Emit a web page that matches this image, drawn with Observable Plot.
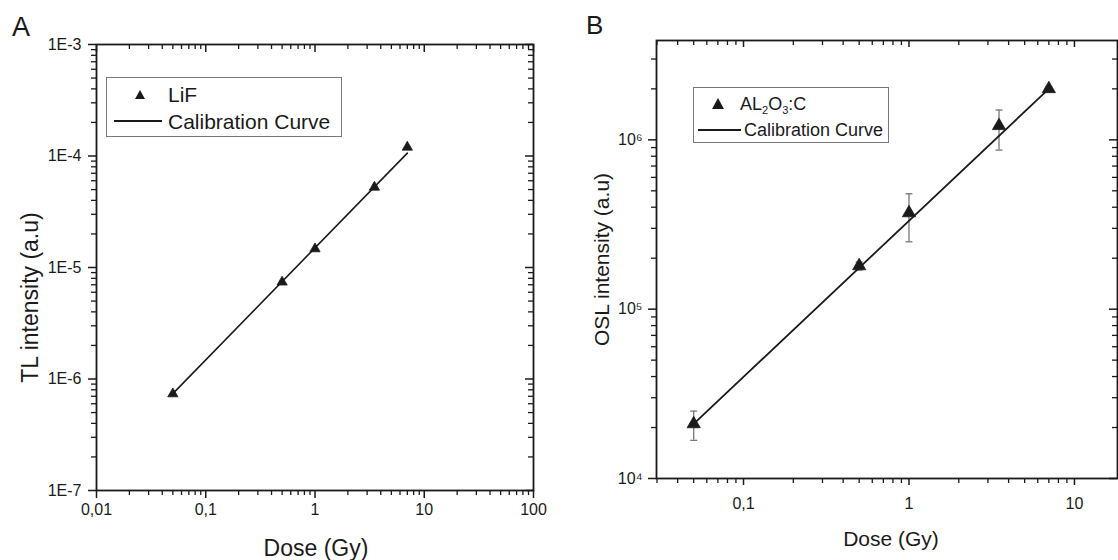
<!DOCTYPE html>
<html><head><meta charset="utf-8">
<script src="https://cdn.jsdelivr.net/npm/d3@7"></script>
<script src="https://cdn.jsdelivr.net/npm/@observablehq/plot@0.6"></script>
<style>
body{margin:0;background:#fff;font-family:"Liberation Sans",Arial,sans-serif;}
#wrap{position:relative;width:1118px;height:560px;overflow:hidden;background:#fff;}
.panel{position:absolute;top:0;}
.t{position:absolute;line-height:1;white-space:nowrap;color:#1a1a1a;font-family:"Liberation Sans",Arial,sans-serif;}
.box{position:absolute;border:1px solid #777;background:#fff;box-sizing:border-box;}
.ln{position:absolute;height:0;border-top:2px solid #1a1a1a;}
.tri{position:absolute;width:0;height:0;border-style:solid;border-color:transparent transparent #1a1a1a transparent;}
</style></head><body><div id="wrap"></div>
<script>
// ---------- Data ----------
// Panel A: LiF (TL)
const doseA = [0.05, 0.5, 1, 3.5, 7];
const tlA = [7.36e-7, 7.4e-6, 1.47e-5, 5.25e-5, 1.2e-4];
const fitDoseA = [0.05, 7];
const fitTlA = [7.4e-7, 1.06e-4];
// Panel B: Al2O3:C (OSL)
const doseB = [0.05, 0.5, 1, 3.5, 7];
const oslB = [2.1e4, 1.8e5, 3.7e5, 1.21e6, 2.0e6];
const oslLoB = [1.68e4, 1.7e5, 2.5e5, 8.7e5, 1.95e6];
const oslHiB = [2.5e4, 1.9e5, 4.8e5, 1.5e6, 2.05e6];
const fitDoseB = [0.05, 7];
const fitOslB = [2.1e4, 2.0e6];
// Tick labels
const xTicksA = [0.01, 0.1, 1, 10, 100];
const xLabelsA = ["0,01", "0,1", "1", "10", "100"];
const yTicksA = [1e-7, 1e-6, 1e-5, 1e-4, 1e-3];
const yLabelsA = ["1E-7", "1E-6", "1E-5", "1E-4", "1E-3"];
const xTicksB = [0.1, 1, 10];
const xLabelsB = ["0,1", "1", "10"];
const yTicksB = [1e4, 1e5, 1e6];
const yLabelsB = ["10\u2074", "10\u2075", "10\u2076"];

// ---------- helpers ----------
function minors(lo, hi) {
  const out = [];
  for (let e = Math.floor(Math.log10(lo)) - 1; e <= Math.ceil(Math.log10(hi)); e++) {
    for (let m = 2; m <= 9; m++) {
      const v = +(m * Math.pow(10, e)).toPrecision(3);
      if (v > lo * 1.0001 && v < hi * 0.9999) out.push(v);
    }
  }
  return out;
}
const fmt = (ticks, labels) => (d) => { const i = ticks.findIndex(t => Math.abs(t - d) / t < 1e-6); return i >= 0 ? labels[i] : ""; };
const len = (s) => Math.sqrt(s / Math.PI);
const capSymbol = { draw(c, s) { const w = len(s); c.moveTo(-w, 0); c.lineTo(w, 0); } };
const INK = "#1a1a1a";
const inDom = (arr, dom) => arr.filter(v => v >= dom[0] * 0.9999 && v <= dom[1] * 1.0001);

// Frame, tick labels and tick marks (tick lengths given in pixels, converted to log-scale factors)
function axesMarks(xDom, yDom, xT, xL, yT, yL, o) {
  const plotW = o.width - o.mL - o.mR, plotH = o.height - o.mT - o.mB;
  const fx = (px) => Math.pow(xDom[1] / xDom[0], px / plotW);
  const fy = (px) => Math.pow(yDom[1] / yDom[0], px / plotH);
  const xMaj = inDom(xT, xDom), xMin = minors(xDom[0], xDom[1]);
  const yMaj = inDom(yT, yDom), yMin = minors(yDom[0], yDom[1]);
  const rx = (data, a, b, w) => Plot.ruleX(data, {x: d => d, y1: () => a, y2: () => b, stroke: INK, strokeWidth: w});
  const ry = (data, a, b, w) => Plot.ruleY(data, {y: d => d, x1: () => a, x2: () => b, stroke: INK, strokeWidth: w});
  return [
    rx(xMaj, yDom[0], yDom[0] / fy(o.xMajSize), 1.5),
    rx(xMin, yDom[0], yDom[0] / fy(o.xMinSize), 1.3),
    rx(xMaj, yDom[1], yDom[1] / fy(o.xMajSize), 1.5),
    rx(xMin, yDom[1], yDom[1] / fy(o.xMinSize), 1.3),
    ry(yMaj, xDom[0] / fx(8), xDom[0], 1.5),
    ry(yMin, xDom[0] / fx(5), xDom[0], 1.3),
    ry(yMaj, xDom[1] / fx(8), xDom[1], 1.5),
    ry(yMin, xDom[1] / fx(5), xDom[1], 1.3),
    Plot.axisX(xMaj, {anchor: "bottom", tickSize: 0, tickPadding: o.xMajSize + o.xPad, tickFormat: fmt(xT, xL), fill: INK}),
    Plot.axisY(yMaj, {anchor: "left", tickSize: 0, tickPadding: 8 + o.yPad, tickFormat: fmt(yT, yL), fill: INK}),
    Plot.frame({stroke: INK, strokeWidth: 1.8})
  ];
}

const ptsA = doseA.map((d, i) => ({dose: d, v: tlA[i]}));
const fitA = fitDoseA.map((d, i) => ({dose: d, v: fitTlA[i]}));
const ptsB = doseB.map((d, i) => ({dose: d, v: oslB[i], lo: oslLoB[i], hi: oslHiB[i]}));
const fitB = fitDoseB.map((d, i) => ({dose: d, v: fitOslB[i]}));

const styleA = {fontFamily: "'Liberation Sans', Arial, sans-serif", fontSize: "16px", color: INK, background: "transparent", overflow: "visible"};
const styleB = {fontFamily: "'Liberation Sans', Arial, sans-serif", fontSize: "16px", color: INK, background: "transparent", overflow: "visible"};

const xDomA = [0.01, 100], yDomA = [1e-7, 1e-3];
const optA = {width: 559, height: 560, mL: 96, mR: 26, mT: 44, mB: 70, xMajSize: 8, xMinSize: 5, xPad: 5, yPad: 7};
const plotA = Plot.plot({
  width: optA.width, height: optA.height,
  marginLeft: optA.mL, marginRight: optA.mR, marginTop: optA.mT, marginBottom: optA.mB,
  style: styleA,
  x: {type: "log", domain: xDomA, label: null},
  y: {type: "log", domain: yDomA, label: null},
  marks: [
    ...axesMarks(xDomA, yDomA, xTicksA, xLabelsA, yTicksA, yLabelsA, optA),
    Plot.line(fitA, {x: "dose", y: "v", stroke: INK, strokeWidth: 1.6}),
    Plot.dot(ptsA, {x: "dose", y: "v", symbol: "triangle", r: 3.8, fill: INK, stroke: INK, strokeWidth: 0.8})
  ]
});

const xDomB = [0.0298, 18.2], yDomB = [1e4, 3.86e6];
const optB = {width: 559, height: 560, mL: 97, mR: 1, mT: 40, mB: 82, xMajSize: 7, xMinSize: 5, xPad: 12, yPad: 6};
const plotB = Plot.plot({
  width: optB.width, height: optB.height,
  marginLeft: optB.mL, marginRight: optB.mR, marginTop: optB.mT, marginBottom: optB.mB,
  style: styleB,
  x: {type: "log", domain: xDomB, label: null},
  y: {type: "log", domain: yDomB, label: null},
  marks: [
    ...axesMarks(xDomB, yDomB, xTicksB, xLabelsB, yTicksB, yLabelsB, optB),
    Plot.ruleX(ptsB, {x: "dose", y1: "lo", y2: "hi", stroke: "#777", strokeWidth: 1.3}),
    Plot.dot(ptsB, {x: "dose", y: "lo", symbol: capSymbol, r: 3.5, stroke: "#777", strokeWidth: 1.3, fill: "none"}),
    Plot.dot(ptsB, {x: "dose", y: "hi", symbol: capSymbol, r: 3.5, stroke: "#777", strokeWidth: 1.3, fill: "none"}),
    Plot.line(fitB, {x: "dose", y: "v", stroke: INK, strokeWidth: 1.8}),
    Plot.dot(ptsB, {x: "dose", y: "v", symbol: "triangle", r: 4.9, fill: INK, stroke: INK, strokeWidth: 0.8})
  ]
});

const wrap = document.getElementById("wrap");
plotA.classList.add("panel"); plotA.style.left = "0px";
plotB.classList.add("panel"); plotB.style.left = "559px";
wrap.appendChild(plotA); wrap.appendChild(plotB);

// ---------- HTML labels: panel letters, axis titles, legends ----------
function txt(html, left, baseline, size, extra) {
  const d = document.createElement("div");
  d.className = "t";
  d.innerHTML = html;
  d.style.fontSize = size + "px";
  d.style.left = left + "px";
  d.style.top = (baseline - 0.8465 * size) + "px";
  if (extra) Object.assign(d.style, extra);
  wrap.appendChild(d);
  return d;
}
function ctxt(html, cx, baseline, size) { return txt(html, cx - 150, baseline, size, {width: "300px", textAlign: "center"}); }
function vtxt(html, baselineX, cy, size) {
  const cx = baselineX - 0.3465 * size;
  const d = document.createElement("div");
  d.className = "t";
  d.innerHTML = html;
  Object.assign(d.style, {fontSize: size + "px", width: "300px", textAlign: "center", left: (cx - 150) + "px", top: (cy - size / 2) + "px", height: size + "px", transform: "rotate(-90deg)", transformOrigin: "150px " + (size / 2) + "px"});
  wrap.appendChild(d);
}
function el(cls, css) { const d = document.createElement("div"); d.className = cls; Object.assign(d.style, css); wrap.appendChild(d); return d; }

txt("A", 12, 37, 27);
txt("B", 586, 34, 26);
ctxt("Dose (Gy)", 316, 556, 23);
ctxt("Dose (Gy)", 891, 546, 21);
vtxt("TL intensity (a.u)", 38, 297, 23);
vtxt("OSL intensity (a.u)", 608, 259, 21);

// Legend A
el("box", {left: "106px", top: "77px", width: "236px", height: "60px"});
el("tri", {left: "135px", top: "90px", borderWidth: "0 5px 9px 5px"});
txt("LiF", 168, 102, 21);
el("ln", {left: "114px", top: "120px", width: "48px"});
txt("Calibration Curve", 168, 129, 21);
// Legend B
el("box", {left: "693px", top: "87px", width: "196px", height: "56px"});
el("tri", {left: "712px", top: "98px", borderWidth: "0 6.5px 11px 6.5px"});
txt('AL<span style="font-size:11px;position:relative;top:4px">2</span>O<span style="font-size:11px;position:relative;top:4px">3</span>:C', 740, 110, 18);
el("ln", {left: "698px", top: "129px", width: "43px"});
txt("Calibration Curve", 744, 136, 18);
</script></body></html>
